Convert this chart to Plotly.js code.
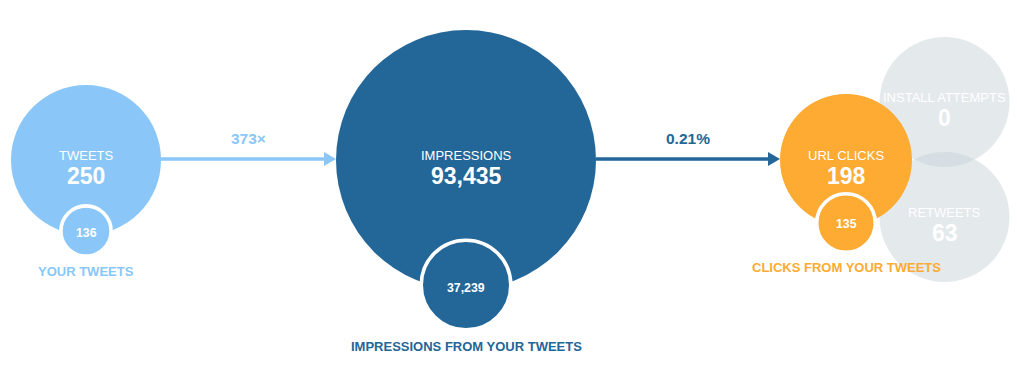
<!DOCTYPE html>
<html>
<head>
<meta charset="utf-8">
<script src="https://cdn.plot.ly/plotly-3.0.1.min.js"></script>
<style>html,body{margin:0;padding:0;background:#fff;}#chart{width:1017px;height:369px;}</style>
</head>
<body>
<div id="chart"></div>
<script>
// ---- data ----
const nodeLabels = ["TWEETS", "IMPRESSIONS", "URL CLICKS", "INSTALL ATTEMPTS", "RETWEETS"];
const nodeValues = [250, 93435, 198, 0, 63];
const subLabels = ["YOUR TWEETS", "IMPRESSIONS FROM YOUR TWEETS", "CLICKS FROM YOUR TWEETS"];
const subValues = [136, 37239, 135];
const flowLabels = ["373×", "0.21%"];

// ---- layout / style (not data) ----
const nodePos = [
  {cx: 86, cy: 160, r: 75},
  {cx: 466, cy: 160, r: 130},
  {cx: 846, cy: 160, r: 66},
  {cx: 944.5, cy: 102, r: 65},
  {cx: 944.5, cy: 217, r: 65}
];
const nodeColors = ["#8ac7f8", "#236698", "#fdab33", "rgba(201,211,217,0.5)", "rgba(201,211,217,0.5)"];
const subPos = [
  {cy: 231, r: 23.3, labelY: 271, textY: 233},
  {cy: 285, r: 43, labelY: 346, textY: 288},
  {cy: 223, r: 27.5, labelY: 267, textY: 224}
];
const ring = 3.6;
const FONT = "Liberation Sans, Arial, sans-serif";

const fmt = v => v.toLocaleString("en-US");
const shapes = [];
const annotations = [];

function circle(cx, cy, r, fill, lineW, lineC) {
  return {type: "circle", xref: "x", yref: "y", x0: cx - r, x1: cx + r, y0: cy - r, y1: cy + r,
    fillcolor: fill, line: {width: lineW || 0, color: lineC || "rgba(0,0,0,0)"}, layer: "above"};
}
function txt(x, y, text, size, color, bold) {
  annotations.push({x: x, y: y, xref: "x", yref: "y", text: bold ? "<b>" + text + "</b>" : text,
    showarrow: false, xanchor: "center", yanchor: "middle",
    font: {family: FONT, size: size, color: color}});
}

// grey secondary circles (drawn first)
[3, 4].forEach(i => {
  const p = nodePos[i];
  shapes.push(circle(p.cx, p.cy, p.r, nodeColors[i]));
});

// arrows between main nodes
const arrowColors = [nodeColors[0], nodeColors[1]];
[[0, 1], [1, 2]].forEach(([a, b], k) => {
  const x0 = nodePos[a].cx + nodePos[a].r;
  const x1 = nodePos[b].cx - nodePos[b].r;
  const y = nodePos[a].cy - 1;
  const hl = 12, hw = 7;
  shapes.push({type: "line", xref: "x", yref: "y", x0: x0, x1: x1 - hl + 1, y0: y, y1: y,
    line: {color: arrowColors[k], width: 3.6}, layer: "above"});
  shapes.push({type: "path", xref: "x", yref: "y",
    path: `M ${x1 - hl} ${y - hw} L ${x1} ${y} L ${x1 - hl} ${y + hw} Z`,
    fillcolor: arrowColors[k], line: {width: 0}, layer: "above"});
  txt((x0 + x1) / 2, y - 21, flowLabels[k], 15.5, arrowColors[k], true);
});

// main circles
[0, 1, 2].forEach(i => {
  const p = nodePos[i];
  shapes.push(circle(p.cx, p.cy, p.r, nodeColors[i]));
});
// sub circles with white ring
[0, 1, 2].forEach(i => {
  const p = nodePos[i], s = subPos[i];
  shapes.push(circle(p.cx, s.cy, s.r + ring / 2, nodeColors[i], ring, "#ffffff"));
  txt(p.cx, s.textY, fmt(subValues[i]), 12.3, "#ffffff", true);
  txt(p.cx, s.labelY, subLabels[i], 13, nodeColors[i], true);
});

// node labels & values
nodePos.forEach((p, i) => {
  txt(p.cx, p.cy - 5, nodeLabels[i], 13, "#ffffff", false);
  txt(p.cx, p.cy + 16, fmt(nodeValues[i]), 23, "#ffffff", true);
});

const layout = {
  width: 1017, height: 369,
  margin: {l: 0, r: 0, t: 0, b: 0, pad: 0},
  paper_bgcolor: "#ffffff", plot_bgcolor: "#ffffff",
  showlegend: false,
  xaxis: {range: [0, 1017], visible: false, fixedrange: true},
  yaxis: {range: [369, 0], visible: false, fixedrange: true},
  shapes: shapes,
  annotations: annotations
};
const traces = [{x: [0], y: [0], mode: "markers", marker: {opacity: 0}, hoverinfo: "skip", showlegend: false}];
Plotly.newPlot("chart", traces, layout, {displayModeBar: false, staticPlot: true});
</script>
</body>
</html>
